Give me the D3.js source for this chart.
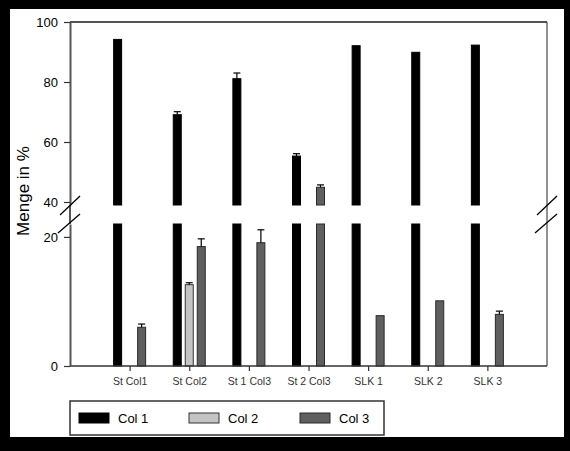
<!DOCTYPE html>
<html><head><meta charset="utf-8">
<script src="https://cdn.jsdelivr.net/npm/d3@7"></script>
<style>html,body{margin:0;padding:0;background:#000;}svg{display:block;}</style>
</head><body>
<script>
const categories = ["St Col1","St Col2","St 1 Col3","St 2 Col3","SLK 1","SLK 2","SLK 3"];
const seriesNames = ["Col 1","Col 2","Col 3"];
const col1 = [94.2, 69.1, 81.1, 55.3, 92.1, 89.9, 92.3];
const col1Err = [null, 70.1, 83.0, 56.1, null, null, null];
const col2 = [null, 12.6, null, null, null, null, null];
const col2Err = [null, 12.9, null, null, null, null, null];
const col3 = [6.0, 18.5, 19.1, 44.9, 7.8, 10.1, 8.0];
const col3Err = [6.5, 19.7, 21.1, 45.7, null, null, 8.5];
const upperTicks = [40, 60, 80, 100];
const lowerTicks = [0, 20];
const breakLow = 22, breakHigh = 39;

const W = 570, H = 451;
const svg = d3.select("body").append("svg").attr("width", W).attr("height", H);
svg.append("rect").attr("width", W).attr("height", H).attr("fill", "#000");
svg.append("rect").attr("x", 10).attr("y", 9).attr("width", 554).attr("height", 428).attr("fill", "#fff");

const left = 70, right = 547;
const x = d3.scalePoint().domain(categories).range([left, right]).padding(1);
const yUp = d3.scaleLinear().domain([breakHigh, 100]).range([205, 22]);
const yLo = d3.scaleLinear().domain([0, breakLow]).range([366, 224]);

const font = "'Liberation Sans', Arial, sans-serif";
const series = [
  {vals: col1, err: col1Err, fill: "#000", stroke: "#000", off: -12},
  {vals: col2, err: col2Err, fill: "#c4c4c4", stroke: "#333", off: 0},
  {vals: col3, err: col3Err, fill: "#5f5f5f", stroke: "#2a2a2a", off: 12}
];
const bw = 8;
const g = svg.append("g");
series.forEach(s => {
  categories.forEach((c, i) => {
    const v = s.vals[i];
    if (v == null) return;
    const cx = x(c) + s.off;
    // lower segment
    const lv = Math.min(v, breakLow);
    g.append("rect").attr("x", cx - bw/2).attr("width", bw)
      .attr("y", yLo(lv)).attr("height", yLo(0) - yLo(lv))
      .attr("fill", s.fill).attr("stroke", s.stroke).attr("stroke-width", 1);
    if (v > breakHigh) {
      g.append("rect").attr("x", cx - bw/2).attr("width", bw)
        .attr("y", yUp(v)).attr("height", yUp(breakHigh) - yUp(v))
        .attr("fill", s.fill).attr("stroke", s.stroke).attr("stroke-width", 1);
    }
    const e = s.err[i];
    if (e != null) {
      const sc = v > breakHigh ? yUp : yLo;
      g.append("line").attr("x1", cx).attr("x2", cx).attr("y1", sc(v)).attr("y2", sc(e))
        .attr("stroke", "#000").attr("stroke-width", 1.2);
      g.append("line").attr("x1", cx - 3.5).attr("x2", cx + 3.5).attr("y1", sc(e)).attr("y2", sc(e))
        .attr("stroke", "#000").attr("stroke-width", 1.2);
    }
  });
});

// frame lines
svg.append("line").attr("x1", left).attr("x2", right).attr("y1", 22).attr("y2", 22)
  .attr("stroke", "#555").attr("stroke-width", 2);
svg.append("line").attr("x1", right).attr("x2", right).attr("y1", 22).attr("y2", 366)
  .attr("stroke", "#222").attr("stroke-width", 1);
svg.append("line").attr("x1", left).attr("x2", right).attr("y1", 366).attr("y2", 366)
  .attr("stroke", "#333").attr("stroke-width", 1.5);

// y axes
function styleAxis(sel) {
  sel.select(".domain").attr("stroke", "#555").attr("stroke-width", 2);
  sel.selectAll(".tick line").attr("stroke", "#333").attr("stroke-width", 1.2);
  sel.selectAll(".tick text").attr("font-family", font).attr("font-size", 13).attr("fill", "#000");
}
svg.append("g").attr("transform", `translate(${left},0)`)
  .call(d3.axisLeft(yUp).tickValues(upperTicks).tickSize(6).tickSizeOuter(0).tickPadding(6))
  .call(styleAxis);
svg.append("g").attr("transform", `translate(${left},0)`)
  .call(d3.axisLeft(yLo).tickValues(lowerTicks).tickSize(6).tickSizeOuter(0).tickPadding(6))
  .call(styleAxis);
svg.append("line").attr("x1", left).attr("x2", left).attr("y1", 205).attr("y2", 224)
  .attr("stroke", "#555").attr("stroke-width", 2);

// x axis
const xa = svg.append("g").attr("transform", `translate(0,366)`)
  .call(d3.axisBottom(x).tickSize(5).tickSizeOuter(0).tickPadding(7));
xa.select(".domain").remove();
xa.selectAll(".tick line").attr("stroke", "#333").attr("stroke-width", 1.2);
xa.selectAll(".tick text").attr("font-family", font).attr("font-size", 10.5).attr("fill", "#333");

// break marks
[[left], [right]].forEach(([bx]) => {
  [[-10, 215, 10, 196], [-12, 233, 10, 214]].forEach(([dx1, y1, dx2, y2]) => {
    svg.append("line").attr("x1", bx + dx1).attr("y1", y1).attr("x2", bx + dx2).attr("y2", y2)
      .attr("stroke", "#000").attr("stroke-width", 1.3);
  });
});

// y title
svg.append("text").attr("transform", "translate(29,191) rotate(-90)")
  .attr("text-anchor", "middle").attr("font-family", font).attr("font-size", 17)
  .attr("fill", "#000").text("Menge in %");

// legend
const lg = svg.append("g");
lg.append("rect").attr("x", 70).attr("y", 401).attr("width", 314).attr("height", 34)
  .attr("fill", "#fff").attr("stroke", "#333").attr("stroke-width", 1.5);
const legX = [79, 189, 300];
seriesNames.forEach((n, i) => {
  const s = series[i];
  lg.append("rect").attr("x", legX[i]).attr("y", 413).attr("width", 30).attr("height", 10)
    .attr("fill", s.fill).attr("stroke", s.stroke).attr("stroke-width", 1);
  lg.append("text").attr("x", legX[i] + 39).attr("y", 423).attr("font-family", font)
    .attr("font-size", 13).attr("fill", "#000").text(n);
});
</script>
</body></html>
